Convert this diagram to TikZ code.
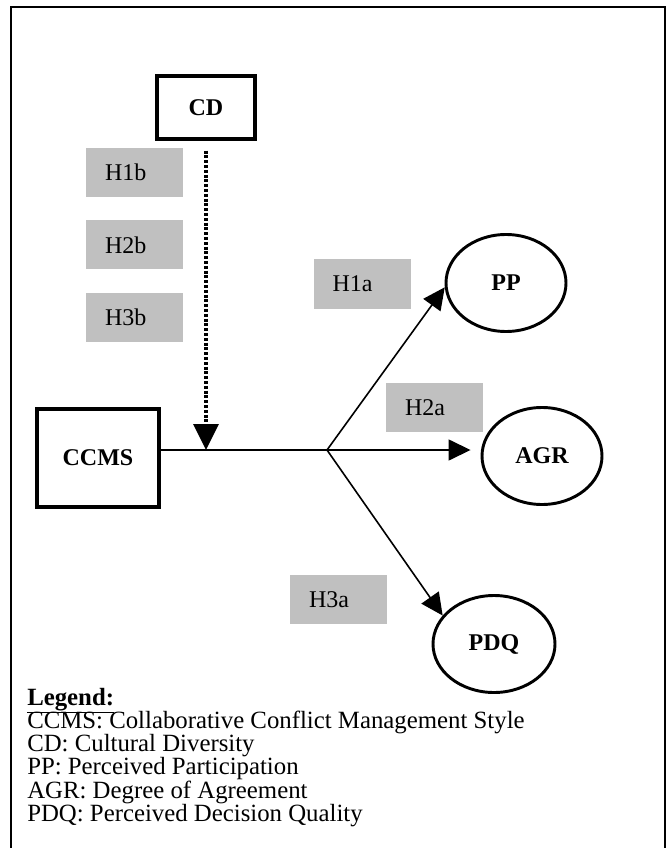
\documentclass[tikz,border=0pt]{standalone}
\usepackage{fontspec}
\setmainfont{Liberation Serif}
\usetikzlibrary{arrows.meta, positioning, shapes.geometric}

\definecolor{hgray}{RGB}{192,192,192}

\tikzset{
  txt/.style={font=\fontsize{18}{18}\selectfont},
  btxt/.style={font=\fontsize{18}{18}\selectfont\bfseries},
  lgtxt/.style={font=\fontsize{18.6}{18.6}\selectfont, anchor=base west, inner sep=0pt},
  varbox/.style={draw, line width=2.4pt, minimum width=98*0.75pt, minimum height=63*0.75pt, btxt},
  outcome/.style={ellipse, draw, line width=2.2pt, minimum width=120*0.75pt, minimum height=97*0.75pt, btxt},
  hyp/.style={fill=hgray, text width=59*0.75pt, inner xsep=19*0.75pt, minimum height=49*0.75pt, align=left, txt},
  link/.style={-{Triangle[length=16.5pt,width=15.75pt]}, line width=1.2pt},
}

\begin{document}
\begin{tikzpicture}[x=0.75pt, y=-0.75pt]

   % Frame
      \useasboundingbox (0,0) rectangle (666,848);
      \clip (0,0) rectangle (666,848);
      \draw[line width=1.6pt] (11,7) rectangle (665,880);

   % Nodes
      \node[varbox]  (cd)    at (206,107.5)  {CD};
      \node[varbox, minimum width=122*0.75pt, minimum height=98*0.75pt]  (ccms)  at (98,458)  {CCMS};
      \node[outcome] (pp)    at (506,283)    {PP};
      \node[outcome] (agr)   at (542,456)    {AGR};
      \node[outcome, minimum width=122*0.75pt] (pdq) at (494,644) {PDQ};
      \coordinate    (br)    at (327,450);

   % Hypotheses
      \node[hyp]  (h1b)  at (134.5,172.5)  {H1b};
      \node[hyp]  (h2b)  at (134.5,245)    {H2b};
      \node[hyp]  (h3b)  at (134.5,317)    {H3b};
      \node[hyp]  (h1a)  at (362,284)      {H1a};
      \node[hyp]  (h2a)  at (434.5,407.5)  {H2a};
      \node[hyp]  (h3a)  at (338.5,599.5)  {H3a};

   % Paths
      \draw[line width=1.2pt] (ccms.east |- br) -- (br);
      \draw[link] (br) -- (pp.184);
      \draw[link, shorten >=7.5pt] (br) -- (br -| agr.west);
      \draw[link] (br) -- (pdq.151);
      \draw[-{Triangle[length=19.5pt,width=18.75pt]}, line width=2.4pt, dash pattern=on 2.2pt off 1.4pt, shorten <=7.5pt]
         (cd.south) -- (cd |- br);

   % Legend
      \node[lgtxt] (lg0) at (27,705) {\textbf{\underline{Legend:}}};
      \foreach \t [count=\i] in {CCMS: Collaborative Conflict Management Style,
                                 CD: Cultural Diversity,
                                 PP: Perceived Participation,
                                 AGR: Degree of Agreement,
                                 PDQ: Perceived Decision Quality}
         \node[lgtxt] (lg\i) at (27,705+23.3*\i) {\t};
\end{tikzpicture}
\end{document}
